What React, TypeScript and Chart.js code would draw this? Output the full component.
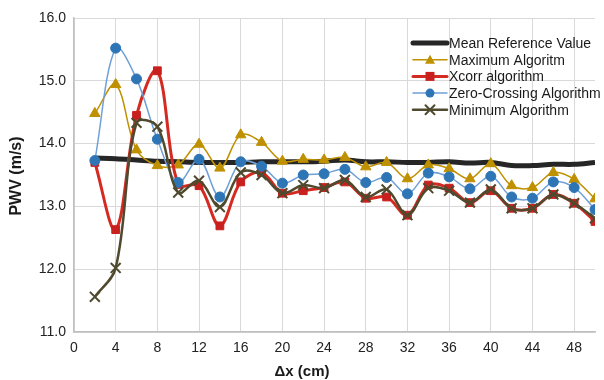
import React, { useEffect, useRef } from "react";
import { Chart, registerables } from "chart.js";

Chart.register(...registerables);

const dxValues = [2, 4, 6, 8, 10, 12, 14, 16, 18, 20, 22, 24, 26, 28, 30, 32, 34, 36, 38, 40, 42, 44, 46, 48, 50];
const meanRef = [13.77, 13.76, 13.74, 13.72, 13.71, 13.7, 13.7, 13.7, 13.71, 13.71, 13.71, 13.72, 13.74, 13.71, 13.71, 13.7, 13.7, 13.71, 13.69, 13.7, 13.65, 13.65, 13.67, 13.67, 13.7];
const maxAlg = [14.48, 14.94, 13.9, 13.65, 13.66, 13.99, 13.61, 14.14, 14.02, 13.72, 13.75, 13.74, 13.78, 13.63, 13.7, 13.44, 13.66, 13.6, 13.44, 13.68, 13.33, 13.3, 13.54, 13.43, 13.12];
const xcorrAlg = [13.7, 12.63, 14.45, 15.16, 13.35, 13.33, 12.69, 13.39, 13.54, 13.21, 13.25, 13.3, 13.39, 13.13, 13.15, 12.86, 13.34, 13.29, 13.06, 13.25, 12.97, 12.97, 13.19, 13.05, 12.76];
const zeroAlg = [13.73, 15.52, 15.03, 14.07, 13.38, 13.75, 13.15, 13.71, 13.64, 13.37, 13.5, 13.52, 13.59, 13.38, 13.46, 13.2, 13.53, 13.47, 13.28, 13.48, 13.15, 13.13, 13.39, 13.3, 12.95];
const minAlg = [11.56, 12.02, 14.33, 14.27, 13.22, 13.41, 12.99, 13.54, 13.5, 13.21, 13.34, 13.29, 13.42, 13.15, 13.27, 12.86, 13.29, 13.25, 13.06, 13.27, 12.97, 12.97, 13.19, 13.05, 12.81];

const seriesNames = ["Mean Reference Value", "Maximum Algoritm", "Xcorr algorithm", "Zero-Crossing Algorithm", "Minimum Algorithm"];
const xTitle = "Δx (cm)";
const yTitle = "PWV (m/s)";

const FONT = "'Liberation Sans', Arial, sans-serif";

const toPts = (ys: number[]) => ys.map((y, i) => ({ x: dxValues[i], y }));

const titlePlugin = {
  id: "axisTitles",
  afterDraw(chart: any) {
    const ctx = chart.ctx;
    ctx.save();
    ctx.fillStyle = "#1a1a1a";
    ctx.textAlign = "center";
    ctx.textBaseline = "middle";
    ctx.font = `bold 15px ${FONT}`;
    ctx.fillText(xTitle, 302, 372);
    ctx.translate(17, 176);
    ctx.rotate(-Math.PI / 2);
    ctx.font = `bold 16px ${FONT}`;
    ctx.fillText(yTitle, 0, 0);
    ctx.restore();
  },
};

const legendPlugin = {
  id: "customLegend",
  afterDraw(chart: any) {
    const ctx = chart.ctx;
    const x0 = 413;
    const x1 = 447;
    const tx = 449;
    const y0 = 43;
    const step = 16.7;
    ctx.save();
    chart.data.datasets.forEach((ds: any, i: number) => {
      const y = y0 + i * step;
      ctx.strokeStyle = ds.borderColor;
      ctx.lineWidth = ds.borderWidth;
      ctx.lineCap = "round";
      ctx.beginPath();
      ctx.moveTo(x0, y);
      ctx.lineTo(x1, y);
      ctx.stroke();
      if (ds.pointRadius > 0) {
        const r = ds.legendRadius;
        const cx = (x0 + x1) / 2;
        ctx.fillStyle = ds.pointBackgroundColor;
        ctx.strokeStyle = ds.pointBorderColor;
        ctx.lineWidth = ds.pointBorderWidth;
        ctx.beginPath();
        if (ds.pointStyle === "circle") {
          ctx.arc(cx, y, r, 0, Math.PI * 2);
          ctx.fill();
        } else if (ds.pointStyle === "rect") {
          ctx.rect(cx - r, y - r, 2 * r, 2 * r);
          ctx.fill();
        } else if (ds.pointStyle === "triangle") {
          ctx.moveTo(cx, y - r);
          ctx.lineTo(cx + r, y + r * 0.8);
          ctx.lineTo(cx - r, y + r * 0.8);
          ctx.closePath();
          ctx.fill();
        } else if (ds.pointStyle === "crossRot") {
          ctx.moveTo(cx - r, y - r);
          ctx.lineTo(cx + r, y + r);
          ctx.moveTo(cx + r, y - r);
          ctx.lineTo(cx - r, y + r);
          ctx.stroke();
        }
      }
      ctx.fillStyle = "#1a1a1a";
      ctx.font = `14px ${FONT}`;
      ctx.textBaseline = "middle";
      ctx.textAlign = "left";
      ctx.fillText(ds.label, tx, y + 1);
    });
    ctx.restore();
  },
};

export default function App() {
  const ref = useRef<HTMLCanvasElement | null>(null);
  useEffect(() => {
    document.body.style.margin = "0";
    const canvas = ref.current;
    if (!canvas) return;
    const chart = new Chart(canvas, {
      type: "line",
      data: {
        datasets: [
          {
            label: seriesNames[0],
            data: toPts(meanRef),
            borderColor: "#262626",
            backgroundColor: "#262626",
            borderWidth: 5,
            pointRadius: 0,
            tension: 0.35,
            order: 5,
          },
          {
            label: seriesNames[1],
            data: toPts(maxAlg),
            borderColor: "#BF9000",
            backgroundColor: "#BF9000",
            pointBackgroundColor: "#BF9000",
            pointBorderColor: "#BF9000",
            pointBorderWidth: 1,
            borderWidth: 1.5,
            pointStyle: "triangle",
            pointRadius: 6,
            legendRadius: 5,
            tension: 0.35,
            order: 4,
          },
          {
            label: seriesNames[2],
            data: toPts(xcorrAlg),
            borderColor: "#D42A22",
            backgroundColor: "#C8201E",
            pointBackgroundColor: "#C8201E",
            pointBorderColor: "#C8201E",
            pointBorderWidth: 1,
            borderWidth: 3,
            pointStyle: "rect",
            pointRadius: 5.5,
            legendRadius: 4.5,
            tension: 0.35,
            order: 3,
          },
          {
            label: seriesNames[3],
            data: toPts(zeroAlg),
            borderColor: "#6FA0D8",
            backgroundColor: "#2E75B6",
            pointBackgroundColor: "#2E75B6",
            pointBorderColor: "#2E75B6",
            pointBorderWidth: 1,
            borderWidth: 1.5,
            pointStyle: "circle",
            pointRadius: 5,
            legendRadius: 4.5,
            tension: 0.35,
            order: 2,
          },
          {
            label: seriesNames[4],
            data: toPts(minAlg),
            borderColor: "#4F4A2E",
            backgroundColor: "#4F4A2E",
            pointBackgroundColor: "#4F4A2E",
            pointBorderColor: "#4F4A2E",
            pointBorderWidth: 2,
            borderWidth: 2.5,
            pointStyle: "crossRot",
            pointRadius: 7,
            legendRadius: 4.5,
            tension: 0.35,
            order: 1,
          },
        ] as any,
      },
      options: {
        animation: false,
        responsive: false,
        maintainAspectRatio: false,
        layout: { padding: { top: 18, right: 0, left: 0, bottom: 0 } },
        plugins: {
          legend: { display: false },
          tooltip: { enabled: false },
        },
        scales: {
          x: {
            type: "linear",
            min: 0,
            max: 50,
            grid: { color: "#D9D9D9", lineWidth: 1, drawTicks: false },
            border: { color: "#BFBFBF", width: 1.5 },
            ticks: {
              stepSize: 4,
              includeBounds: false,
              color: "#222",
              font: { family: FONT, size: 14 },
              padding: 8,
              maxRotation: 0,
            },
            afterFit: (s: any) => {
              s.height = 48;
            },
          },
          y: {
            min: 11,
            max: 16,
            grid: { color: "#D9D9D9", lineWidth: 1, drawTicks: false },
            border: { color: "#BFBFBF", width: 1.5 },
            ticks: {
              stepSize: 1,
              color: "#222",
              font: { family: FONT, size: 14 },
              padding: 8,
              callback: (v: any) => Number(v).toFixed(1),
            },
            afterFit: (s: any) => {
              s.width = 74;
            },
          },
        },
      } as any,
      plugins: [legendPlugin, titlePlugin],
    });
    return () => chart.destroy();
  }, []);
  return (
    <div style={{ width: 604, height: 380 }}>
      <canvas ref={ref} width={604} height={380} style={{ display: "block" }} />
    </div>
  );
}
